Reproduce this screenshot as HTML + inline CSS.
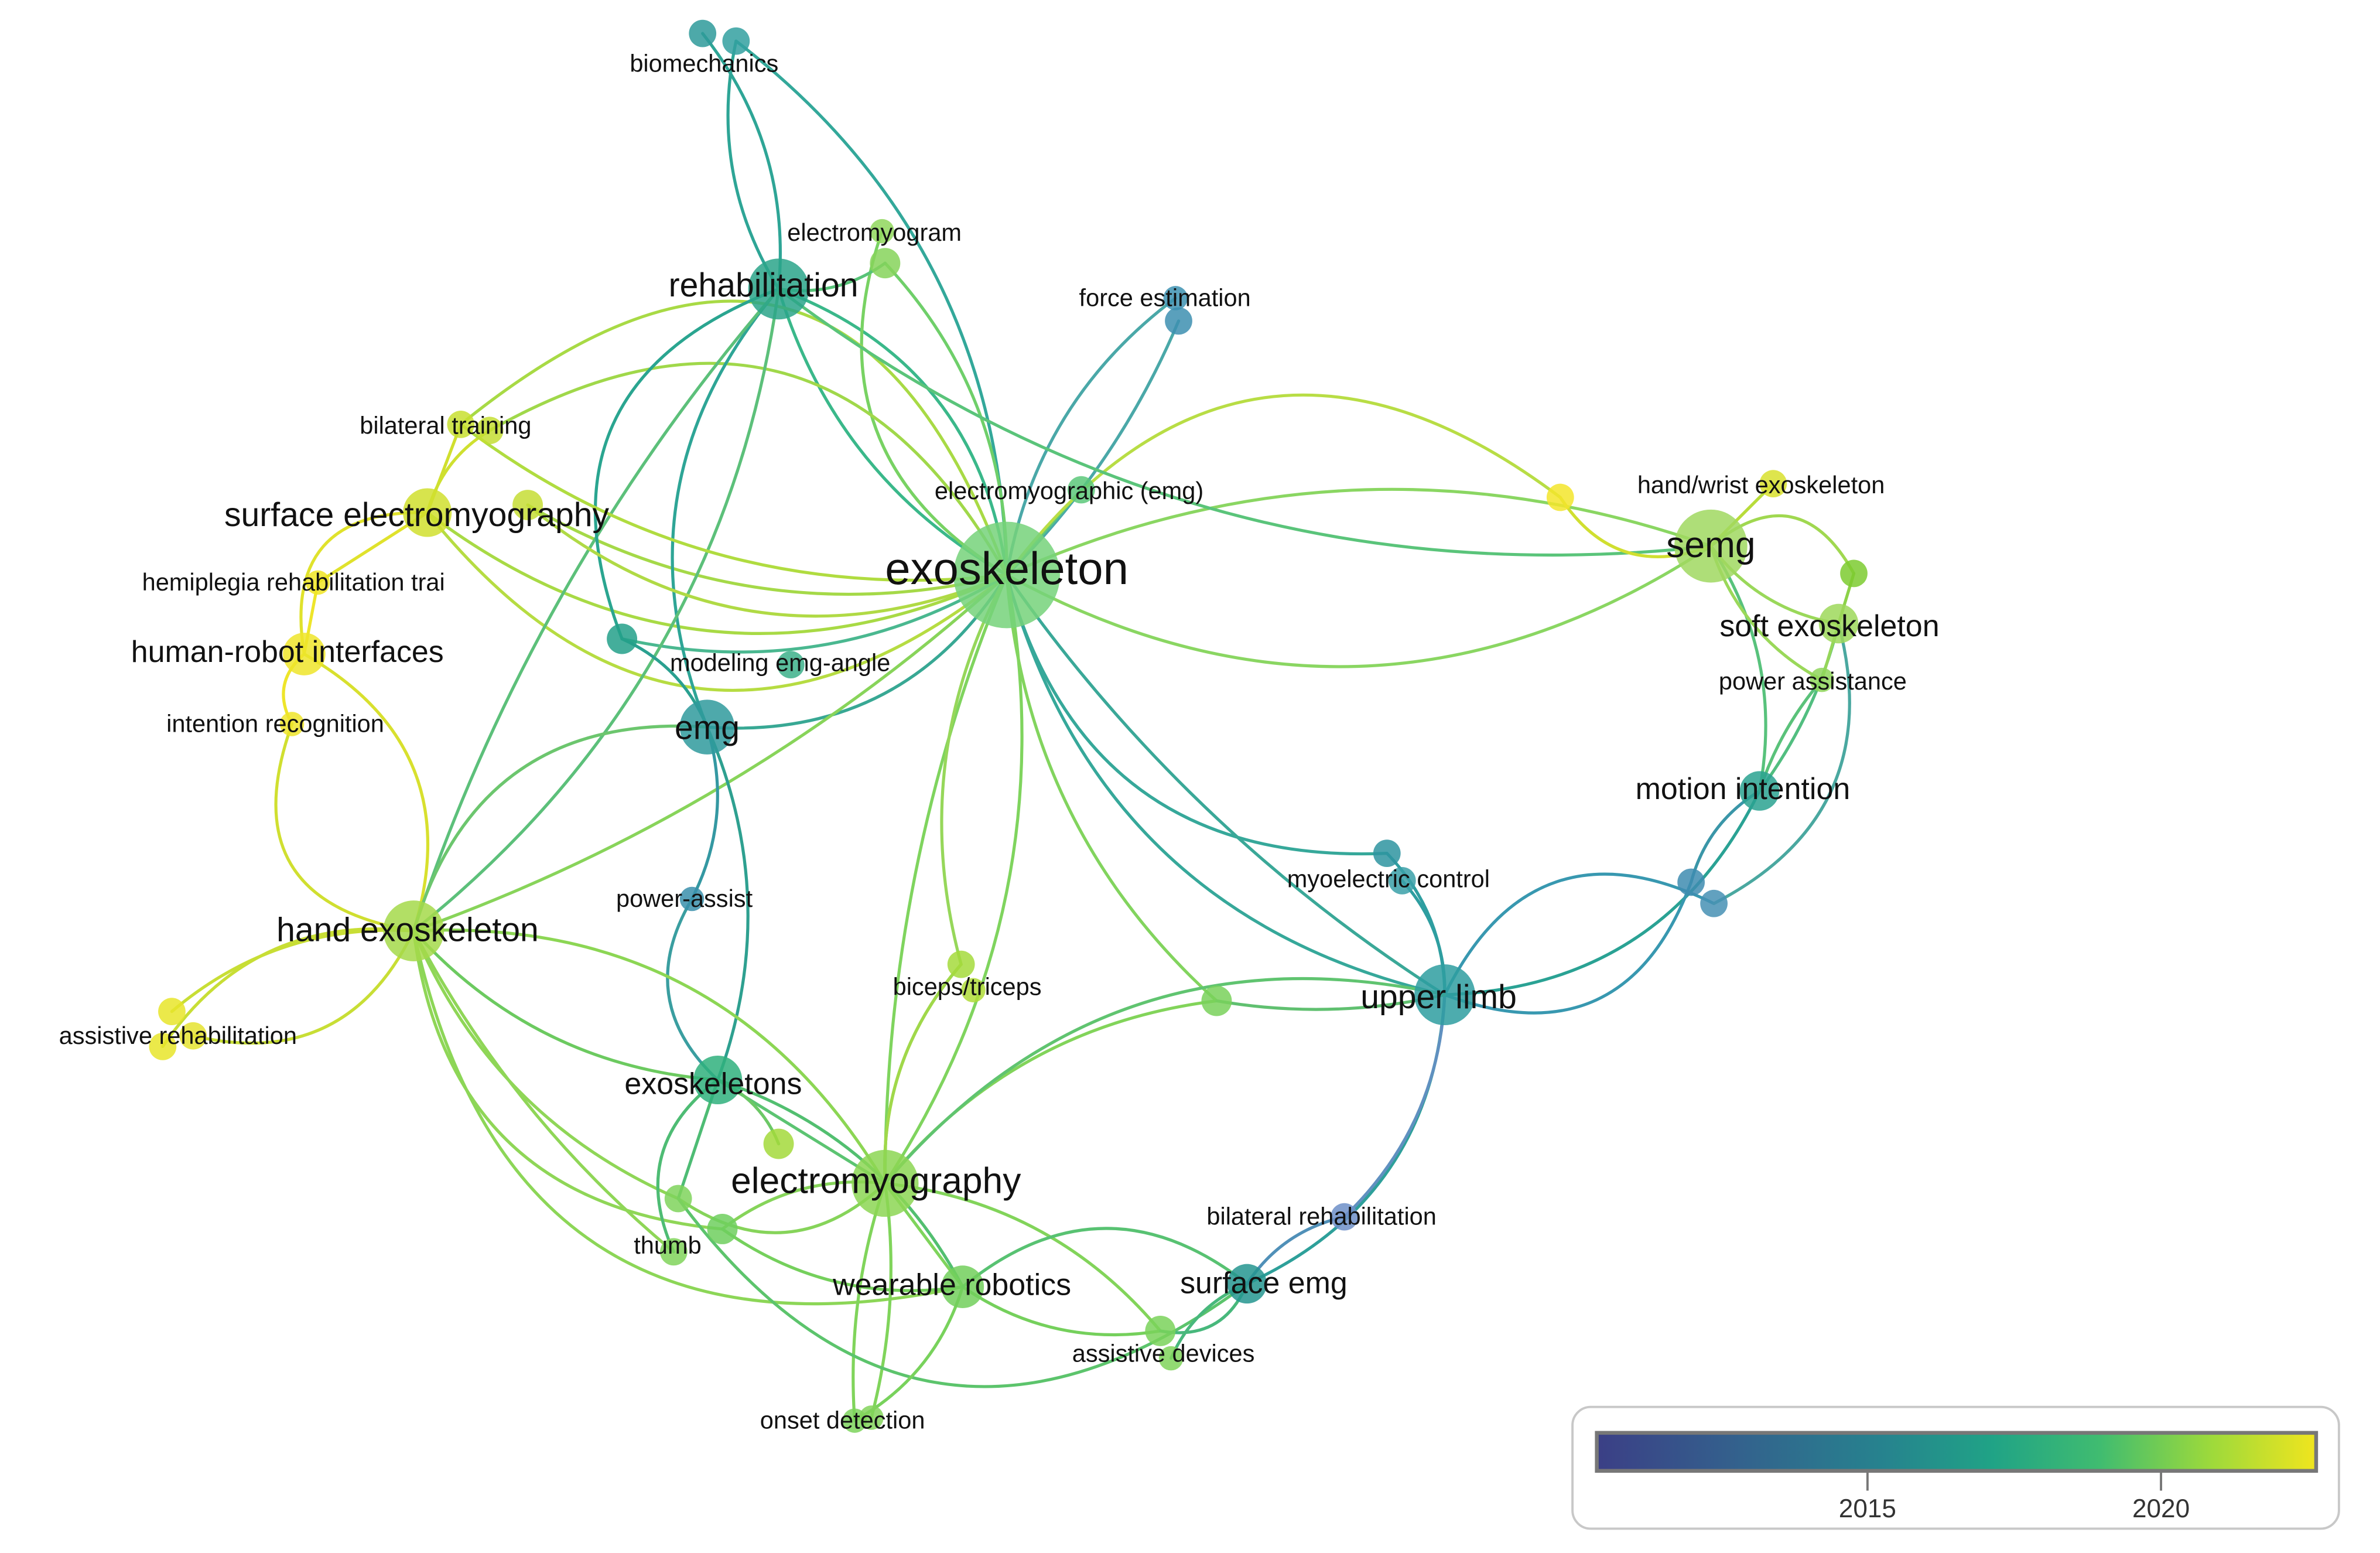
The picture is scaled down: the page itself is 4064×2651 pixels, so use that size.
<!DOCTYPE html>
<html><head><meta charset="utf-8"><style>
html,body{margin:0;padding:0;background:#fff;}
svg{display:block;}
text{font-family:"Liberation Sans",sans-serif;fill:#111;text-anchor:middle;dominant-baseline:middle;}
</style></head><body>
<svg id="s" width="4064" height="2651" viewBox="0 0 1565 1021" preserveAspectRatio="none" xmlns="http://www.w3.org/2000/svg">
<defs>
<linearGradient id="vir" x1="0" x2="1" y1="0" y2="0">
<stop offset="0" stop-color="#3b3f86"/><stop offset="0.2" stop-color="#33628d"/><stop offset="0.4" stop-color="#26838e"/><stop offset="0.55" stop-color="#20a386"/><stop offset="0.7" stop-color="#40bc70"/><stop offset="0.85" stop-color="#9bd93c"/><stop offset="1" stop-color="#f0e51e"/>
</linearGradient>
</defs>
<g id="edges" fill="none" stroke-width="2" stroke-linecap="round"></g>
<g id="nodes"></g>
<g id="labels"></g>
<rect x="1034" y="925" width="504" height="80" rx="12" fill="#fff" stroke="#c8c8c8" stroke-width="1.5"/>
<rect x="1050" y="942" width="473" height="25" fill="url(#vir)" stroke="#777" stroke-width="2.5"/>
<line x1="1228" y1="967" x2="1228" y2="980" stroke="#777" stroke-width="1.5"/>
<line x1="1421" y1="967" x2="1421" y2="980" stroke="#777" stroke-width="1.5"/>
<text x="1228" y="993" font-size="17" style="fill:#333">2015</text>
<text x="1421" y="993" font-size="17" style="fill:#333">2020</text>
</svg>
<script>
var ns="http://www.w3.org/2000/svg";
var N={
exo:[662,378,35,"#75d27a"],reh:[512,190,20,"#2aa58a"],bio1:[462,22,9,"#2e9a9a"],bio2:[484,27,9,"#33a0a0"],
emgm1:[580,152,8,"#8fd75c"],emgm2:[582,173,10,"#86d45a"],fe1:[773,196,8,"#3d92b2"],fe2:[775,211,9,"#3d8fb0"],
emgc:[711,322,9,"#5cc87a"],bt1:[303,279,9,"#c8df30"],bt2:[322,283,9,"#c4de32"],se:[281,337,16,"#d0df2e"],se2:[347,332,10,"#c6dd35"],
hem:[209,383,8,"#f0e525"],hri:[200,430,14,"#eee52a"],ir:[192,476,8,"#efe52a"],emg:[465,478,18,"#2f9a9c"],
n409:[409,420,10,"#23a08a"],meg:[520,437,9,"#3cb08a"],pa:[455,591,8,"#3a8fab"],he:[272,612,20,"#a5d94a"],
ar1:[113,665,9,"#e8e52a"],ar2:[127,681,9,"#e5e330"],ar3:[107,688,9,"#e8e52a"],exs:[472,710,16,"#2fb07c"],
ele:[582,778,22,"#8cd653"],th1:[446,788,9,"#7fd45c"],th2:[475,808,10,"#6fcf5e"],th3:[443,823,9,"#80d45a"],
n512:[512,752,10,"#a3d93b"],wr:[633,846,14,"#72cf5c"],od1:[562,934,8,"#7dd35c"],od2:[573,932,8,"#82d45a"],
bc1:[632,634,9,"#a5da3c"],bc2:[640,651,8,"#b0dc38"],n800:[800,658,10,"#79d15a"],ul:[950,654,20,"#2e9ea0"],
mc1:[912,561,9,"#2e94a0"],mc2:[922,579,9,"#3aa0a8"],sem:[820,844,13,"#25958f"],br:[884,800,9,"#6d8fc8"],
ad1:[763,875,10,"#7ad25a"],ad2:[770,893,8,"#7fd45a"],semg:[1125,359,24,"#a0d860"],n1026:[1026,327,9,"#f3e52b"],
hw:[1166,318,9,"#d8e02e"],n1219:[1219,377,9,"#7dcb30"],soft:[1209,410,13,"#9dd85a"],pas:[1198,447,8,"#8fd65a"],
mi:[1157,520,13,"#2aa290"],b1:[1112,580,9,"#3e8cb0"],b2:[1127,594,9,"#4690b4"]
};
var E=[
["exo","reh",-0.1,"#3ab88a"],["exo","reh",0.15,"#3ab88a"],["exo","bio2",0.12,"#33a89a"],["exo","emgm2",0.1,"#6fcf6a"],["exo","emgm1",-0.2,"#78d263"],
["exo","fe2",0.05,"#4aa8a8"],["exo","fe1",-0.1,"#4aa8a8"],["exo","emgc",0,"#5cc87a"],
["exo","bt2",0.25,"#a0d84a"],["exo","bt1",0.35,"#a8da45"],["exo","se",-0.15,"#a8da45"],["exo","se",-0.25,"#b6dc42"],["exo","se2",-0.1,"#a5d948"],
["exo","semg",0.15,"#8ad662"],["exo","semg",-0.1,"#8ad662"],["exo","n1026",-0.25,"#b8dd45"],
["exo","mc1",0.2,"#36a89a"],["exo","ul",0.15,"#36a89a"],["exo","ul",0.05,"#3aa898"],["exo","emg",-0.15,"#38a894"],
["exo","he",-0.05,"#88d45a"],["exo","ele",-0.1,"#7fd45e"],["exo","ele",0.05,"#7fd45e"],["exo","bc1",0.1,"#96d75a"],["exo","n800",0.1,"#82d45e"],
["exo","n409",-0.1,"#4ab890"],
["reh","bio1",0.1,"#2ea596"],["reh","bio2",-0.1,"#2ea596"],["reh","emg",0.15,"#2ea596"],["reh","he",-0.1,"#5cc07a"],["reh","he",0.05,"#5cc07a"],
["reh","n409",0.25,"#2aa590"],["reh","emgm2",0.1,"#58c378"],["reh","semg",0.1,"#5ac47a"],
["bt1","se",0,"#d0df2e"],["bt2","se",0.1,"#cfe030"],["se","hri",0.3,"#e0e22c"],["se","hem",0,"#e0e22c"],["hem","hri",0,"#eee52a"],
["hri","ir",0.2,"#eee52a"],["ir","he",0.3,"#d0df30"],["hri","he",-0.2,"#d8e02e"],["bt1","exo",0.1,"#b0dc40"],
["emg","he",0.2,"#6cc66e"],["emg","pa",-0.1,"#3498a2"],["emg","exs",-0.1,"#2ea090"],["emg","n409",0.1,"#2aa090"],["pa","exs",0.2,"#3a9ea0"],
["he","ar1",0.1,"#c8de35"],["he","ar2",-0.2,"#c8de35"],["he","ar3",0.15,"#c8de35"],["he","exs",0.1,"#6cca60"],["he","ele",-0.15,"#8cd654"],
["he","th1",0.1,"#8fd657"],["he","th2",0.2,"#8fd657"],["he","th3",0.05,"#8fd657"],["he","wr",0.25,"#8cd657"],
["exs","ele",0,"#5cc472"],["exs","n512",-0.1,"#6cc866"],["exs","th1",0,"#4ebc74"],["exs","th3",0.2,"#4ebc74"],["exs","wr",-0.1,"#52bf70"],
["ele","th1",-0.2,"#86d45a"],["ele","th2",0.1,"#86d45a"],["ele","wr",0,"#7fd45c"],["ele","od1",0.05,"#80d45b"],["ele","od2",-0.05,"#80d45b"],
["ele","bc1",-0.1,"#98d84a"],["ele","n800",-0.1,"#82d45a"],["ele","ul",-0.15,"#60c470"],["ele","ad1",-0.1,"#82d45a"],
["th2","wr",0.1,"#75d05c"],["th1","sem",0.25,"#5cc46c"],["wr","od1",-0.1,"#78d25c"],["wr","ad1",0.1,"#75d05c"],
["wr","sem",-0.2,"#58c272"],["ad1","sem",0.2,"#48b87c"],["ad2","sem",-0.1,"#48b87c"],["sem","ul",0.15,"#2ea09a"],["br","ul",0.1,"#6090c0"],["br","sem",0.1,"#5090b8"],
["ul","mc2",0.1,"#2e9ea0"],["mc1","ul",-0.1,"#2e9ea0"],["ul","mi",0.15,"#2aa294"],["ul","b1",0.25,"#3898b0"],["ul","b2",-0.25,"#3898b0"],
["mi","b1",0.1,"#3a96a8"],["mi","soft",0.05,"#52be80"],["mi","semg",0.1,"#58c27c"],["mi","pas",-0.05,"#5ac27a"],["b2","soft",0.2,"#4aa8a0"],
["semg","hw",0,"#b8dc3a"],["semg","n1219",-0.3,"#a0d850"],["semg","soft",0.1,"#9ad85a"],["semg","pas",0.1,"#9ad85a"],["n1026","semg",0.2,"#d0df30"],
["n1219","soft",0,"#8cd248"],["soft","pas",0,"#96d65a"],["se2","exo",0.15,"#b0da45"],["n800","ul",0.05,"#60c070"],["bc1","ele",0.1,"#a0d84a"]
];
var eg=document.getElementById("edges"),ng=document.getElementById("nodes"),lg=document.getElementById("labels");
E.forEach(function(e){var a=N[e[0]],b=N[e[1]];var mx=(a[0]+b[0])/2,my=(a[1]+b[1])/2,dx=b[0]-a[0],dy=b[1]-a[1];
var cx=mx-dy*e[2]*2,cy=my+dx*e[2]*2;var p=document.createElementNS(ns,"path");
p.setAttribute("d","M"+a[0]+","+a[1]+" Q"+cx+","+cy+" "+b[0]+","+b[1]);p.setAttribute("stroke",e[3]);eg.appendChild(p);});
for(var k in N){var n=N[k];var c=document.createElementNS(ns,"circle");c.setAttribute("cx",n[0]);c.setAttribute("cy",n[1]);c.setAttribute("r",n[2]);c.setAttribute("fill",n[3]);c.setAttribute("fill-opacity","0.85");ng.appendChild(c);}
var L=[["exoskeleton",662,376,30],["rehabilitation",502,189,22],["biomechanics",463,43,16],["electromyogram",575,154,16],["force estimation",766,197,16],
["electromyographic (emg)",703,324,16],["bilateral training",293,281,16],["surface electromyography",274,340,22],["hemiplegia rehabilitation trai",193,384,16],
["human-robot interfaces",189,430,20],["intention recognition",181,477,16],["emg",465,480,22],["modeling emg-angle",513,437,16],["power-assist",450,592,16],
["hand exoskeleton",268,613,22],["assistive rehabilitation",117,682,16],["exoskeletons",469,714,20],["electromyography",576,778,24],["thumb",439,820,16],
["wearable robotics",626,846,20],["onset detection",554,935,16],["biceps/triceps",636,650,16],["upper limb",946,657,22],["myoelectric control",913,579,16],
["surface emg",831,845,20],["bilateral rehabilitation",869,801,16],["assistive devices",765,891,16],["semg",1125,360,24],["hand/wrist exoskeleton",1158,320,16],
["soft exoskeleton",1203,413,20],["power assistance",1192,449,16],["motion intention",1146,520,20]];
L.forEach(function(l){var t=document.createElementNS(ns,"text");t.setAttribute("x",l[1]);t.setAttribute("y",l[2]);t.setAttribute("font-size",l[3]);t.textContent=l[0];lg.appendChild(t);});
</script>
</body></html>
